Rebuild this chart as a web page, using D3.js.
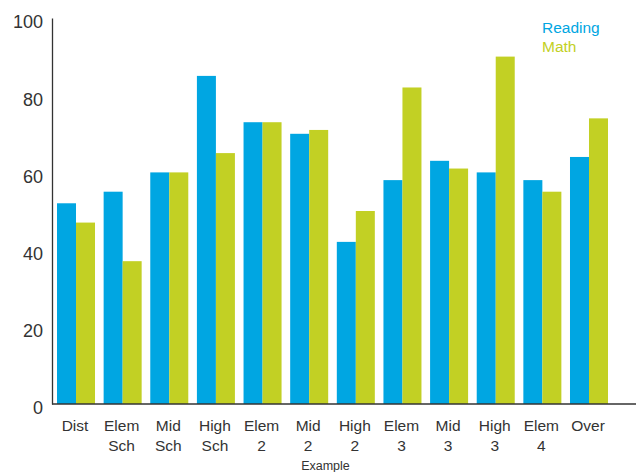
<!DOCTYPE html>
<html>
<head>
<meta charset="utf-8">
<script src="https://cdn.jsdelivr.net/npm/d3@7"></script>
<style>
  html, body { margin: 0; padding: 0; background: #fff; }
  svg { display: block; font-family: "Liberation Sans", Arial, sans-serif; }
</style>
</head>
<body>
<svg id="chart" width="636" height="472"></svg>
<script>
const categories = [
  ["Dist"], ["Elem", "Sch"], ["Mid", "Sch"], ["High", "Sch"], ["Elem", "2"], ["Mid", "2"],
  ["High", "2"], ["Elem", "3"], ["Mid", "3"], ["High", "3"], ["Elem", "4"], ["Over"]
];
const seriesNames = ["Reading", "Math"];
const readingValues = [52, 55, 60, 85, 73, 70, 42, 58, 63, 60, 58, 64];
const mathValues = [47, 37, 60, 65, 73, 71, 50, 82, 61, 90, 55, 74];
const yTicks = [0, 20, 40, 60, 80, 100];
const xTitle = "Example";

const colors = { Reading: "#00a6e2", Math: "#c2d024" };
const axisColor = "#333";
const textColor = "#333";

const W = 636, H = 472;
const plotLeft = 52, plotTop = 18, plotBottom = 404;

const svg = d3.select("#chart");
const keys = categories.map(c => c.join(" "));

const x0 = d3.scaleBand().domain(keys).range([57, 608]).paddingInner(0.185).paddingOuter(0);
const x1 = d3.scaleBand().domain(seriesNames).range([0, x0.bandwidth()]).padding(0);
const y = d3.scaleLinear().domain([0, 100]).range([plotBottom, plotTop]);

const data = keys.map((k, i) => ({ key: k, lines: categories[i], Reading: readingValues[i], Math: mathValues[i] }));

// Bars
const groups = svg.append("g").selectAll("g").data(data).join("g")
  .attr("transform", d => `translate(${x0(d.key)},0)`);
groups.selectAll("rect")
  .data(d => seriesNames.map(s => ({ s, v: d[s] })))
  .join("rect")
  .attr("x", d => x1(d.s))
  .attr("width", x1.bandwidth())
  .attr("y", d => y(d.v))
  .attr("height", d => y(0) - y(d.v))
  .attr("fill", d => colors[d.s]);

// Y axis
const yAxis = svg.append("g")
  .attr("transform", `translate(${plotLeft},0)`)
  .call(d3.axisLeft(y).tickValues(yTicks).tickSize(0).tickSizeOuter(0).tickPadding(9));
yAxis.select(".domain").attr("stroke", axisColor).attr("stroke-width", 1.3);
yAxis.selectAll("text")
  .attr("font-size", 18)
  .attr("fill", textColor)
  .attr("dy", "0.55em")
  .attr("font-family", "Liberation Sans, Arial, sans-serif");

// X axis line
svg.append("line")
  .attr("x1", plotLeft).attr("x2", W)
  .attr("y1", y(0)).attr("y2", y(0))
  .attr("stroke", axisColor).attr("stroke-width", 1.3);

// X category labels
const xl = svg.append("g").selectAll("text").data(data).join("text")
  .attr("text-anchor", "middle")
  .attr("font-size", 15.5)
  .attr("fill", textColor)
  .attr("transform", d => `translate(${x0(d.key) + x0.bandwidth() / 2 - 1},${y(0) + 27})`);
xl.selectAll("tspan").data(d => d.lines).join("tspan")
  .attr("x", 0)
  .attr("dy", (d, i) => i === 0 ? 0 : 20)
  .text(d => d);

// X title
svg.append("text")
  .attr("x", (x0.range()[0] + x0.range()[1]) / 2 - 7)
  .attr("y", 470)
  .attr("text-anchor", "middle")
  .attr("font-size", 12.5)
  .attr("fill", textColor)
  .text(xTitle);

// Legend
svg.append("g").selectAll("text").data(seriesNames).join("text")
  .attr("x", 542)
  .attr("y", (d, i) => 32.5 + i * 19)
  .attr("font-size", 15.5)
  .attr("fill", d => colors[d])
  .text(d => d);
</script>
</body>
</html>
